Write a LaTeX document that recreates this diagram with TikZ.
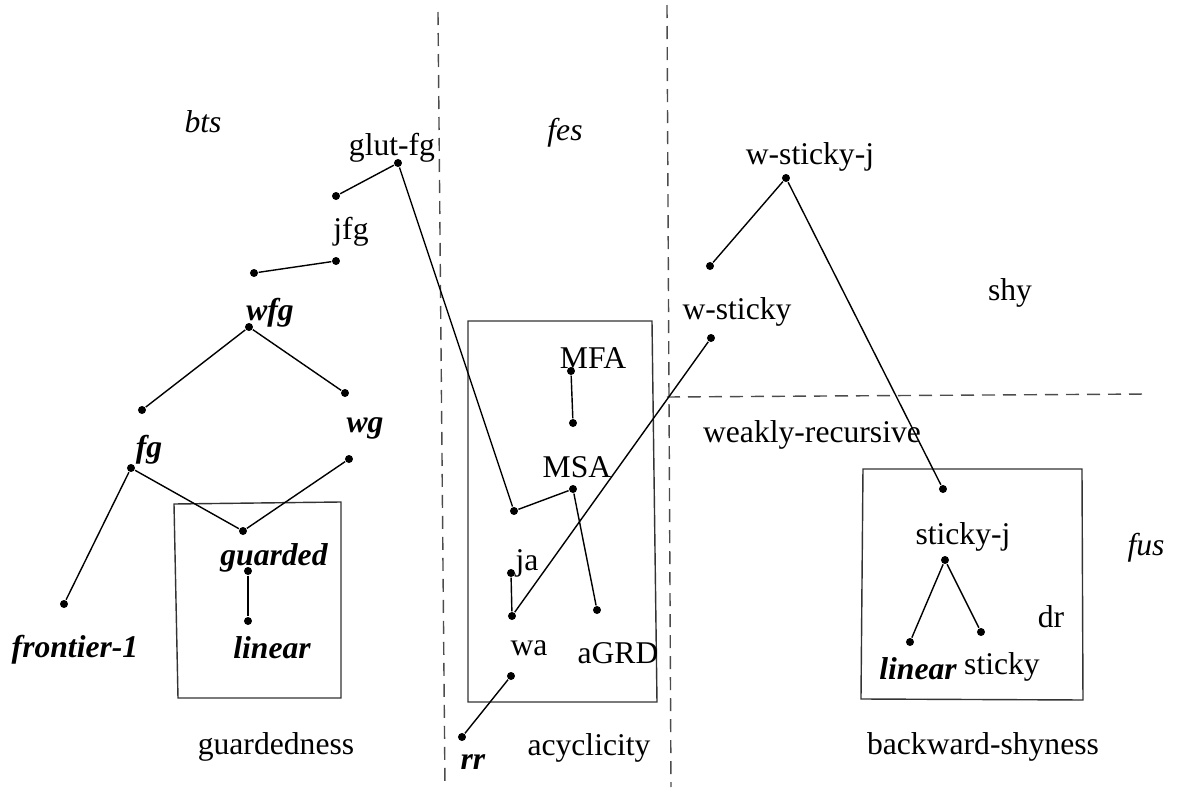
\documentclass[tikz,border=0pt]{standalone}
\usepackage{fontspec}
\setmainfont{Liberation Serif}
\begin{document}
\begin{tikzpicture}[auto,line width=0.4pt,
        point node/.style={circle,fill,inner sep=0pt,minimum size=0.08cm},
        text node/.style={inner sep=1pt,font=\fontsize{9}{11}\selectfont},
        bi node/.style={text node,font=\fontsize{9}{11}\selectfont\bfseries\itshape},
        it node/.style={text node,font=\fontsize{9}{11}\selectfont\itshape},
        class box/.style={draw=black!80,line width=0.4pt},
        border/.style={draw=black!70,dash pattern=on 0.13cm off 0.08cm,line width=0.4pt}]
    \useasboundingbox (0,0) rectangle (11.82,7.87);

    % borders between the families
    \draw[border] (4.38, 7.75) -- (4.45, 0);
    \draw[border] (6.67, 7.82) -- (6.71, 0);
    \draw[border] (6.67, 3.90) -- (11.48, 3.93);

    % boxes
    \draw[class box] (1.74, 2.83) -- (3.41, 2.85) -- (3.41, 0.89) -- (1.78, 0.89) -- cycle;
    \draw[class box] (4.68, 4.66) -- (6.52, 4.66) -- (6.57, 0.85) -- (4.68, 0.85) -- cycle;
    \draw[class box] (8.63, 3.18) -- (10.82, 3.18) -- (10.83, 0.87) -- (8.61, 0.88) -- cycle;

    % labels
    \node[it node] at (2.03, 6.65) (bts) {bts};
    \node[text node] at (3.92, 6.39) (glutfg) {glut-fg};
    \node[text node] at (3.51, 5.55) (jfg) {jfg};
    \node[bi node] at (2.70, 4.74) (wfg) {wfg};
    \node[bi node] at (1.49, 3.37) (fg) {fg};
    \node[bi node] at (3.65, 3.59) (wg) {wg};
    \node[bi node] at (2.74, 2.29) (guarded) {guarded};
    \node[bi node] at (2.72, 1.39) (linear) {linear};
    \node[bi node] at (0.75, 1.37) (fr) {frontier-1};
    \node[text node] at (2.76, 0.40) (guardedness) {guardedness};

    \node[it node] at (5.65, 6.54) (fes) {fes};
    \node[text node] at (5.93, 4.29) (mfa) {MFA};
    \node[text node] at (5.77, 3.20) (msa) {MSA};
    \node[text node] at (5.27, 2.24) (ja) {ja};
    \node[text node] at (5.29, 1.39) (wa) {wa};
    \node[text node] at (6.18, 1.34) (agrd) {aGRD};
    \node[bi node] at (4.73, 0.25) (rr) {rr};
    \node[text node] at (5.89, 0.39) (acyclicity) {acyclicity};

    \node[text node] at (7.37, 4.75) (wsticky) {w-sticky};
    \node[text node] at (8.10, 6.30) (wstickyj) {w-sticky-j};
    \node[text node] at (10.10, 4.94) (shy) {shy};
    \node[text node] at (8.12, 3.52) (wr) {weakly-recursive};
    \node[text node] at (9.63, 2.50) (stickyj) {sticky-j};
    \node[text node] at (10.51, 1.70) (dr) {dr};
    \node[it node] at (11.46, 2.39) (fus) {fus};
    \node[bi node] at (9.18, 1.18) (linearb) {linear};
    \node[text node] at (10.02, 1.20) (sticky) {sticky};
    \node[text node] at (9.83, 0.40) (bshy) {backward-shyness};

    % points
    \node[point node] at (3.98, 6.24) (glutfg p) {};
    \node[point node] at (3.36, 5.91) (jfg u) {};
    \node[point node] at (3.36, 5.26) (jfg p) {};
    \node[point node] at (2.54, 5.14) (wfg u) {};
    \node[point node] at (2.49, 4.60) (wfg p) {};
    \node[point node] at (1.42, 3.77) (fg u) {};
    \node[point node] at (3.45, 3.94) (wg u) {};
    \node[point node] at (1.31, 3.19) (fg p) {};
    \node[point node] at (3.49, 3.28) (wg p) {};
    \node[point node] at (2.43, 2.56) (guarded u) {};
    \node[point node] at (2.48, 2.16) (guarded p) {};
    \node[point node] at (2.48, 1.66) (linear u) {};
    \node[point node] at (0.64, 1.83) (fr u) {};

    \node[point node] at (5.71, 4.16) (mfa p) {};
    \node[point node] at (5.73, 3.64) (msa u) {};
    \node[point node] at (5.73, 2.98) (msa p) {};
    \node[point node] at (5.14, 2.76) (msa l) {};
    \node[point node] at (5.11, 2.14) (ja p) {};
    \node[point node] at (5.12, 1.71) (wa u) {};
    \node[point node] at (5.97, 1.77) (agrd u) {};
    \node[point node] at (5.11, 1.11) (wa p) {};
    \node[point node] at (4.62, 0.50) (rr u) {};

    \node[point node] at (7.10, 5.21) (wsticky u) {};
    \node[point node] at (7.11, 4.49) (wsticky p) {};
    \node[point node] at (7.86, 6.09) (wstickyj p) {};
    \node[point node] at (9.43, 2.98) (stickyj u) {};
    \node[point node] at (9.45, 2.27) (stickyj p) {};
    \node[point node] at (9.10, 1.45) (linearb u) {};
    \node[point node] at (9.81, 1.55) (sticky u) {};

    \path
        (glutfg p) edge (jfg u)
        (glutfg p) edge (msa l)
        (jfg p) edge (wfg u)
        (wfg p) edge (fg u)
        (wfg p) edge (wg u)
        (fg p) edge (fr u)
        (fg p) edge (guarded u)
        (wg p) edge (guarded u)
        (guarded p) edge (linear u)
        (mfa p) edge (msa u)
        (msa p) edge (msa l)
        (msa p) edge (agrd u)
        (ja p) edge (wa u)
        (wa u) edge (wsticky p)
        (wa p) edge (rr u)
        (wstickyj p) edge (wsticky u)
        (wstickyj p) edge (stickyj u)
        (stickyj p) edge (linearb u)
        (stickyj p) edge (sticky u)
        ;
\end{tikzpicture}
\end{document}
